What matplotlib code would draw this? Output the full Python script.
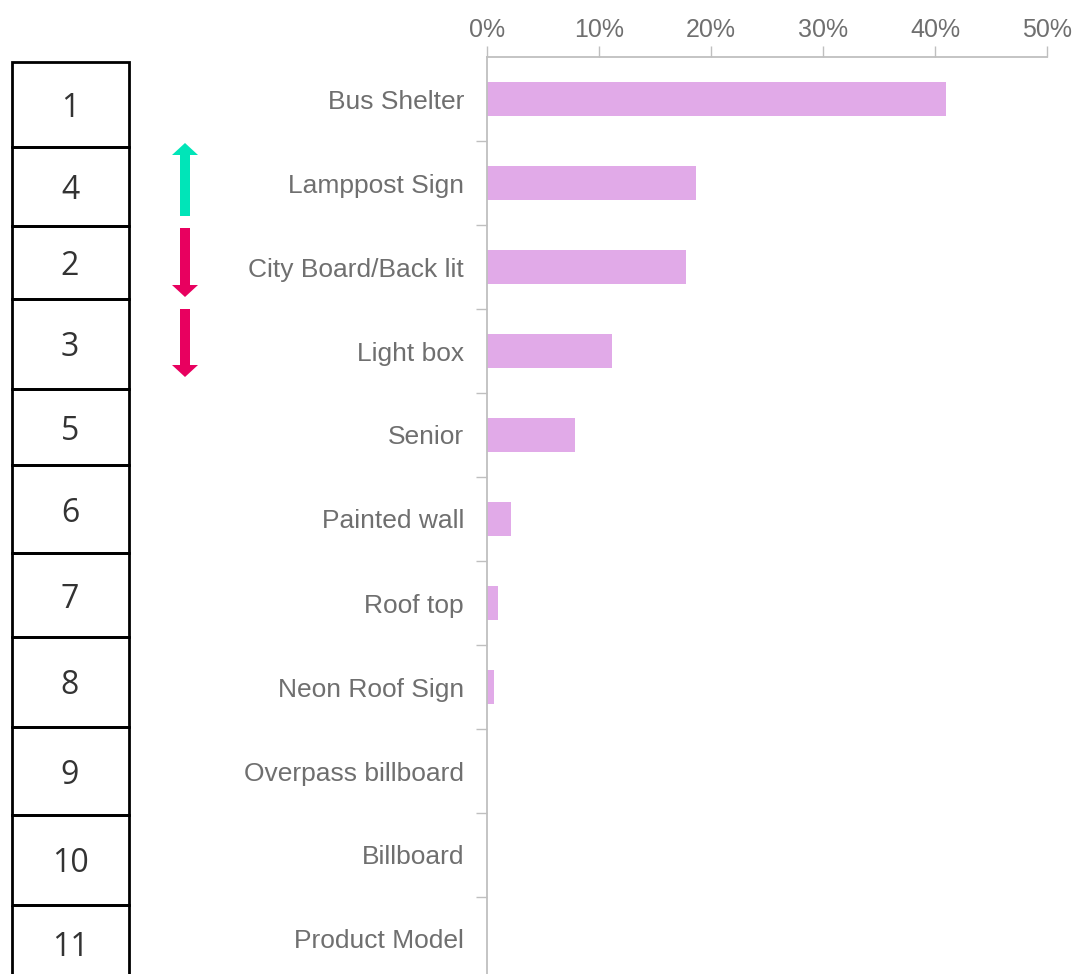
import numpy as np
import matplotlib.pyplot as plt
from matplotlib.patches import FancyArrow

plt.rcParams['font.family'] = ['Liberation Sans', 'DejaVu Sans']

categories = ["Bus Shelter", "Lamppost Sign", "City Board/Back lit", "Light box",
              "Senior", "Painted wall", "Roof top", "Neon Roof Sign",
              "Overpass billboard", "Billboard", "Product Model"]
share = [0.410, 0.187, 0.178, 0.112, 0.079, 0.021, 0.010, 0.006, 0.0, 0.0, 0.0]
ranks = ["1", "4", "2", "3", "5", "6", "7", "8", "9", "10", "11"]
# rank change: +1 up, -1 down, 0 none
moves = [0, 1, -1, -1, 0, 0, 0, 0, 0, 0, 0]

W, H = 1077, 974
fig = plt.figure(figsize=(W / 100, H / 100), dpi=100)

# main bar chart, placed in pixel coords
x0, x1, y0, y1 = 487, 1047, 57, 981
ax = fig.add_axes([x0 / W, 1 - y1 / H, (x1 - x0) / W, (y1 - y0) / H])
ypos = np.arange(len(categories))
ax.barh(ypos, share, height=0.4, color="#E1AAE8")
ax.set_ylim(len(categories) - 0.5, -0.5)
ax.set_xlim(0, 0.5)

grey = "#BFBFBF"
txt = "#6F6F6F"
for s in ["right", "bottom"]:
    ax.spines[s].set_visible(False)
for s in ["top", "left"]:
    ax.spines[s].set_color(grey)
    ax.spines[s].set_linewidth(1.3)

ax.xaxis.tick_top()
ticks = np.arange(0, 0.51, 0.1)
ax.set_xticks(ticks)
ax.set_xticklabels([f"{int(round(v * 100))}%" for v in ticks])
ax.tick_params(axis="x", which="major", length=8, width=1, color=grey, pad=2.5,
               labelsize=18, labelcolor=txt)

ax.set_yticks(ypos)
ax.set_yticklabels(categories)
ax.set_yticks(ypos[:-1] + 0.5, minor=True)
ax.tick_params(axis="y", which="major", length=0, pad=16.5, labelsize=19, labelcolor=txt)
ax.tick_params(axis="y", which="minor", length=8, width=1, color=grey)

# rank boxes on the left
ov = fig.add_axes([0, 0, 1, 1])
ov.set_xlim(0, W)
ov.set_ylim(H, 0)
ov.axis("off")
edges = [62, 147, 226, 299, 389, 465, 553, 637, 727, 815, 905, 983]
for i, r in enumerate(ranks):
    top, bot = edges[i], edges[i + 1]
    ov.add_patch(plt.Rectangle((12, top), 117, bot - top, fill=False,
                               edgecolor="black", linewidth=2, clip_on=False))
    ov.text(70, (top + bot) / 2 + 4, r, ha="center", va="center",
            fontsize=23, color="#333333", family="Open Sans")

# movement arrows
arrow_spans = {1: (216, 143), 2: (228, 297), 3: (309, 377)}
for i, m in enumerate(moves):
    if m == 0:
        continue
    a, b = arrow_spans[i]
    col = "#00E5B8" if m > 0 else "#E8005F"
    ov.add_patch(FancyArrow(185, a, 0, b - a, width=10, head_width=26,
                            head_length=12, length_includes_head=True,
                            color=col, linewidth=0))

fig.savefig("out.png", dpi=100)
